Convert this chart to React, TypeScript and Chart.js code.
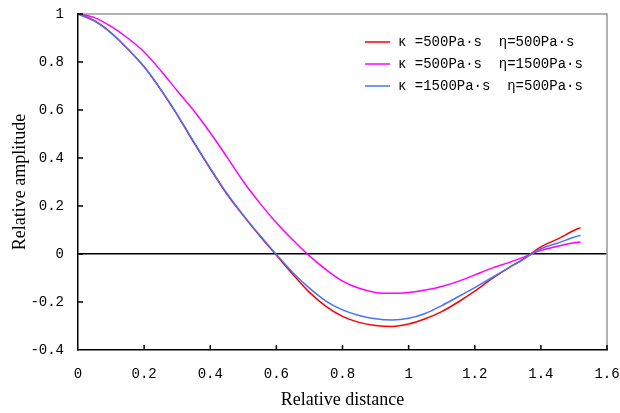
import React, { useEffect, useRef } from "react";
import { Chart, registerables } from "chart.js";

Chart.register(...registerables);

const distance = [0, 0.05, 0.1, 0.15, 0.2, 0.25, 0.3, 0.35, 0.4, 0.45, 0.5, 0.55, 0.6, 0.65, 0.7, 0.75, 0.8, 0.85, 0.9, 0.95, 1.0, 1.05, 1.1, 1.15, 1.2, 1.25, 1.3, 1.35, 1.4, 1.45, 1.5, 1.52];

const redAmplitude = [1.0, 0.972, 0.922, 0.855, 0.78, 0.685, 0.58, 0.465, 0.355, 0.25, 0.16, 0.075, -0.005, -0.085, -0.16, -0.218, -0.26, -0.285, -0.298, -0.302, -0.292, -0.27, -0.24, -0.2, -0.155, -0.105, -0.06, -0.018, 0.03, 0.062, 0.098, 0.11];

const magentaAmplitude = [1.0, 0.985, 0.948, 0.9, 0.842, 0.765, 0.68, 0.598, 0.505, 0.405, 0.302, 0.212, 0.13, 0.058, -0.008, -0.065, -0.113, -0.143, -0.16, -0.164, -0.16, -0.15, -0.135, -0.114, -0.087, -0.06, -0.037, -0.012, 0.015, 0.032, 0.047, 0.05];

const blueAmplitude = [1.0, 0.97, 0.92, 0.855, 0.78, 0.687, 0.582, 0.468, 0.358, 0.253, 0.162, 0.078, -0.002, -0.078, -0.142, -0.196, -0.233, -0.256, -0.27, -0.275, -0.268, -0.248, -0.215, -0.178, -0.14, -0.1, -0.06, -0.02, 0.022, 0.045, 0.07, 0.078];

const seriesLabels = [
  "κ =500Pa·s  η=500Pa·s",
  "κ =500Pa·s  η=1500Pa·s",
  "κ =1500Pa·s  η=500Pa·s",
];
const seriesColors = ["#FF0000", "#FF00FF", "#4575FF"];

const xTickValues = [0, 0.2, 0.4, 0.6, 0.8, 1, 1.2, 1.4, 1.6];
const yTickValues = [-0.4, -0.2, 0, 0.2, 0.4, 0.6, 0.8, 1];

const tickFont = { family: "'Liberation Mono', monospace", size: 14 };
const titleFont = { family: "'Liberation Serif', serif", size: 18 };

const framePlugin = {
  id: "frame",
  beforeDatasetsDraw(chart: any) {
    const { ctx, chartArea } = chart;
    ctx.save();
    ctx.strokeStyle = "#999999";
    ctx.lineWidth = 1.5;
    ctx.beginPath();
    ctx.moveTo(chartArea.left, chartArea.top);
    ctx.lineTo(chartArea.right, chartArea.top);
    ctx.lineTo(chartArea.right, chartArea.bottom);
    ctx.stroke();
    ctx.restore();
  },
  afterDraw(chart: any) {
    const { ctx, chartArea, scales } = chart;
    ctx.save();
    ctx.strokeStyle = "#000000";
    ctx.lineWidth = 1.5;
    ctx.beginPath();
    xTickValues.forEach((v) => {
      if (v === 0) return;
      const px = scales.x.getPixelForValue(v);
      ctx.moveTo(px, chartArea.bottom);
      ctx.lineTo(px, chartArea.bottom - 5);
    });
    yTickValues.forEach((v) => {
      if (v === -0.4) return;
      const py = scales.y.getPixelForValue(v);
      ctx.moveTo(chartArea.left, py);
      ctx.lineTo(chartArea.left + 5, py);
    });
    ctx.stroke();

    // legend
    const lx = chartArea.right - 242;
    const ly = chartArea.top + 28;
    ctx.font = `14px ${tickFont.family}`;
    ctx.textBaseline = "middle";
    ctx.textAlign = "left";
    chart.data.datasets.forEach((ds: any, i: number) => {
      const y = ly + i * 22;
      ctx.strokeStyle = ds.borderColor;
      ctx.lineWidth = 1.5;
      ctx.beginPath();
      ctx.moveTo(lx, y);
      ctx.lineTo(lx + 25, y);
      ctx.stroke();
      ctx.fillStyle = "#000000";
      ctx.fillText(ds.label, lx + 33, y);
    });
    ctx.restore();
  },
};

export default function App() {
  const canvasRef = useRef<HTMLCanvasElement | null>(null);

  useEffect(() => {
    if (!canvasRef.current) return;
    const series = [redAmplitude, magentaAmplitude, blueAmplitude];
    const chart = new Chart(canvasRef.current, {
      type: "line",
      data: {
        datasets: series.map((values, i) => ({
          label: seriesLabels[i],
          data: distance.map((d, j) => ({ x: d, y: values[j] })),
          borderColor: seriesColors[i],
          backgroundColor: seriesColors[i],
          borderWidth: 1.5,
          pointRadius: 0,
          fill: false,
          cubicInterpolationMode: "monotone" as const,
          order: i === 2 ? 0 : i === 0 ? 2 : 1,
        })),
      },
      options: {
        animation: false,
        responsive: false,
        layout: { padding: { top: 14, right: 13, left: 0, bottom: 0 } },
        plugins: {
          legend: { display: false },
          tooltip: { enabled: false },
        },
        scales: {
          x: {
            type: "linear",
            min: 0,
            max: 1.6,
            afterFit: (scale: any) => {
              scale.height = 63;
              scale.paddingLeft = 0;
              scale.paddingRight = 0;
            },
            afterBuildTicks: (scale: any) => {
              scale.ticks = xTickValues.map((v) => ({ value: v }));
            },
            ticks: {
              font: tickFont,
              color: "#000000",
              padding: 16,
              maxRotation: 0,
              autoSkip: false,
              callback: (v: any) => String(Math.round(Number(v) * 10) / 10),
            },
            grid: { display: false, drawTicks: false },
            border: { display: true, color: "#000000", width: 1.5 },
            title: {
              display: true,
              text: "Relative distance",
              font: titleFont,
              color: "#000000",
              padding: { top: 0, bottom: 2 },
            },
          },
          y: {
            type: "linear",
            min: -0.4,
            max: 1,
            afterFit: (scale: any) => {
              scale.width = 78;
              scale.paddingTop = 0;
              scale.paddingBottom = 0;
            },
            afterBuildTicks: (scale: any) => {
              scale.ticks = yTickValues.map((v) => ({ value: v }));
            },
            ticks: {
              font: tickFont,
              color: "#000000",
              padding: 14,
              autoSkip: false,
              callback: (v: any) => String(Math.round(Number(v) * 10) / 10),
            },
            grid: {
              display: true,
              drawTicks: false,
              lineWidth: 1.5,
              color: (ctx: any) =>
                ctx.tick && Math.abs(ctx.tick.value) < 1e-9 ? "#000000" : "rgba(0,0,0,0)",
            },
            border: { display: true, color: "#000000", width: 1.5 },
            title: {
              display: true,
              text: "Relative amplitude",
              font: titleFont,
              color: "#000000",
              padding: { top: 9, bottom: 0 },
            },
          },
        },
      },
      plugins: [framePlugin],
    });
    return () => chart.destroy();
  }, []);

  return (
    <div style={{ position: "absolute", left: 0, top: 0, width: 620, height: 413, background: "#ffffff" }}>
      <canvas ref={canvasRef} width={620} height={413} style={{ display: "block" }} />
    </div>
  );
}
